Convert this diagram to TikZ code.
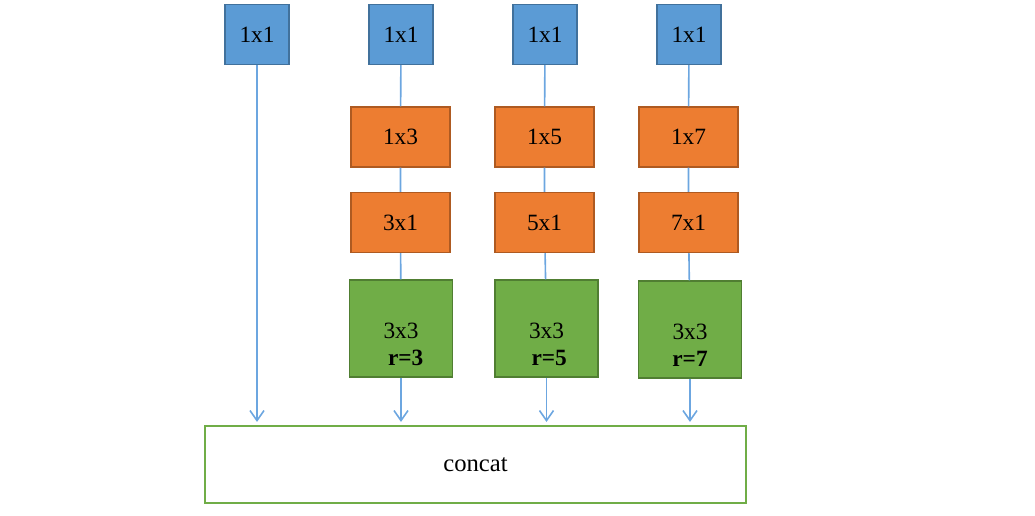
\documentclass[tikz,border=0pt]{standalone}
\usepackage{fontspec}
\setmainfont{Liberation Serif}
\usetikzlibrary{arrows.meta}

\definecolor{blueFill}{RGB}{91,155,213}
\definecolor{blueLine}{RGB}{65,113,156}
\definecolor{orangeFill}{RGB}{237,125,49}
\definecolor{orangeLine}{RGB}{174,90,33}
\definecolor{greenFill}{RGB}{112,173,71}
\definecolor{greenLine}{RGB}{80,126,50}
\definecolor{linkBlue}{RGB}{108,166,224}

\tikzset{every picture/.style={line width=0.75pt}}

\begin{document}
\begin{tikzpicture}[x=0.75pt,y=0.75pt,yscale=-1,xscale=1,
  box/.style={draw, line width=1.1pt, inner sep=0pt, align=center, font=\fontsize{17.5}{20.25}\selectfont},
  onebyone/.style={box, fill=blueFill, draw=blueLine, minimum width=48pt, minimum height=45pt},
  factor/.style={box, fill=orangeFill, draw=orangeLine, minimum width=74.25pt, minimum height=45pt},
  dilated/.style={box, fill=greenFill, draw=greenLine, minimum width=77.5pt, minimum height=72.5pt},
  link/.style={draw=linkBlue, line width=1.2pt},
  feed/.style={link, -{Straight Barb[length=7.5pt,width=10.5pt]}, shorten >=2.5pt}]
\useasboundingbox (0,0) rectangle (1035,515);

%Blue 1x1 boxes
\node [onebyone] (b1) at (257,34.5) {1x1};
\node [onebyone] (b2) at (401,34.5) {1x1};
\node [onebyone] (b3) at (545,34.5) {1x1};
\node [onebyone] (b4) at (689,34.5) {1x1};

%Orange factorised convs
\node [factor] (f13) at (400.5,137) {1x3};
\node [factor] (f31) at (400.5,222.5) {3x1};
\node [factor] (f15) at (544.5,137) {1x5};
\node [factor] (f51) at (544.5,222.5) {5x1};
\node [factor] (f17) at (688.5,137) {1x7};
\node [factor] (f71) at (688.5,222.5) {7x1};

%Green dilated convs
\node [dilated] (d3) at (401,328.5) {\mbox{}\\[15pt]3x3\\\hspace*{7pt}\textbf{r=3}};
\node [dilated] (d5) at (546.5,328.5) {\mbox{}\\[15pt]3x3\\\hspace*{4pt}\textbf{r=5}};
\node [dilated] (d7) at (690,329.5) {\mbox{}\\[15pt]3x3\\\textbf{r=7}};

%Concat
\node [draw=greenFill, line width=1.1pt, minimum width=405.75pt, minimum height=57.75pt, font=\fontsize{18.5}{22}\selectfont] (cat) at (475.5,464.5) {concat};

%Links
\draw [link] (b2) -- (f13) (f13) -- (f31) (f31) -- (d3);
\draw [link] (b3) -- (f15) (f15) -- (f51) (f51) -- (d5);
\draw [link] (b4) -- (f17) (f17) -- (f71) (f71) -- (d7);

\draw [feed] (b1.south) -- (b1.south |- cat.north);
\draw [feed] (d3.south) -- (d3.south |- cat.north);
\draw [feed] (d5.south) -- (d5.south |- cat.north);
\draw [feed] (d7.south) -- (d7.south |- cat.north);

\end{tikzpicture}
\end{document}
